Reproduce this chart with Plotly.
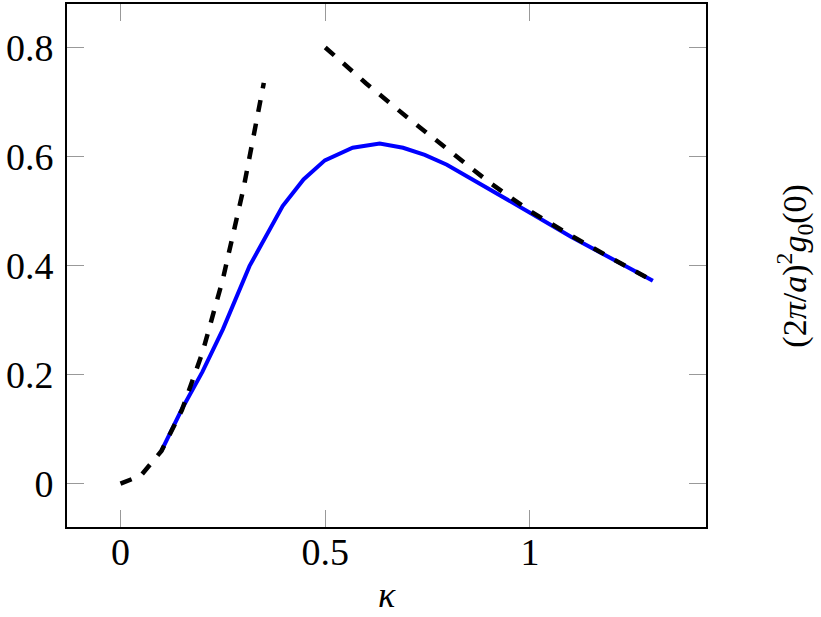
import plotly.graph_objects as go

# Data
blue_x = [0.10, 0.15, 0.20, 0.25, 0.315, 0.396, 0.447, 0.499, 0.567, 0.633, 0.690, 0.743, 0.797, 0.90, 1.00, 1.10, 1.20, 1.30]
blue_y = [0.060, 0.137, 0.205, 0.283, 0.399, 0.509, 0.558, 0.593, 0.616, 0.624, 0.616, 0.603, 0.585, 0.541, 0.497, 0.453, 0.413, 0.372]

small_x = [0.0, 0.05, 0.10, 0.15, 0.20, 0.25, 0.30, 0.35]
small_y = [0.0, 0.015, 0.060, 0.135, 0.240, 0.375, 0.540, 0.735]

large_x = [0.5, 0.6, 0.7, 0.8, 0.9, 1.0, 1.1, 1.2, 1.3]
large_y = [0.800, 0.734, 0.672, 0.613, 0.553, 0.500, 0.455, 0.413, 0.372]

x_ticks = [0, 0.5, 1]
x_ticklabels = ["0", "0.5", "1"]
y_ticks = [0, 0.2, 0.4, 0.6, 0.8]
y_ticklabels = ["0", "0.2", "0.4", "0.6", "0.8"]

FONT = "Liberation Serif"

fig = go.Figure()
fig.add_trace(go.Scatter(x=blue_x, y=blue_y, mode="lines",
                         line=dict(color="#0000ff", width=4), showlegend=False))
fig.add_trace(go.Scatter(x=small_x, y=small_y, mode="lines",
                         line=dict(color="black", width=4.5, dash="12px,12px"), showlegend=False))
fig.add_trace(go.Scatter(x=large_x, y=large_y, mode="lines",
                         line=dict(color="black", width=4.5, dash="12px,12px"), showlegend=False))

axis_common = dict(
    showgrid=False, zeroline=False,
    showline=True, linecolor="black", linewidth=2, mirror="ticks",
    ticks="inside", ticklen=17, tickwidth=1.2, tickcolor="#999999",
    tickfont=dict(family=FONT, size=38, color="black"),
)

fig.update_layout(
    width=821, height=617,
    margin=dict(l=67, r=115, t=2, b=90),
    paper_bgcolor="white", plot_bgcolor="white",
    xaxis=dict(range=[-0.1306, 1.4298], tickvals=x_ticks, ticktext=x_ticklabels,
               ticklabelstandoff=-10, **axis_common),
    yaxis=dict(range=[-0.0794, 0.8797], tickvals=y_ticks, ticktext=y_ticklabels,
               ticklabelstandoff=4, **axis_common),
    annotations=[
        dict(text="<i>κ</i>", x=0.5, y=-0.171, xref="paper", yref="paper",
             showarrow=False, font=dict(family=FONT, size=36, color="black"),
             xanchor="center", yanchor="bottom", borderpad=0),
        dict(text="(2<i>π</i>/<i>a</i>)<sup>2</sup><i>g</i><sub>0</sub>(0)",
             x=1.138, y=0.5, xref="paper", yref="paper", textangle=-90,
             showarrow=False, font=dict(family=FONT, size=34, color="black"),
             xanchor="center", yanchor="middle", borderpad=0),
    ],
)

fig.write_html("out.html")
